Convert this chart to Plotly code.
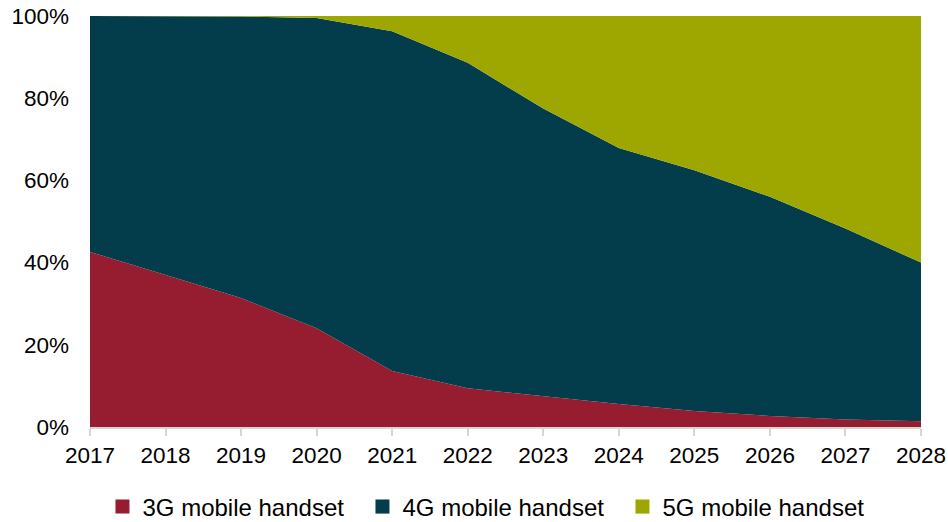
import plotly.graph_objects as go

# Share of mobile handsets by technology generation (% of total)
years = [2017, 2018, 2019, 2020, 2021, 2022, 2023, 2024, 2025, 2026, 2027, 2028]
share_3g = [42.6, 37.0, 31.4, 24.0, 13.6, 9.4, 7.5, 5.6, 3.9, 2.7, 1.8, 1.4]
share_4g = [57.4, 63.0, 68.5, 75.5, 82.7, 79.2, 70.0, 62.3, 58.6, 53.3, 46.5, 38.6]
share_5g = [0.0, 0.0, 0.1, 0.5, 3.7, 11.4, 22.5, 32.1, 37.5, 44.0, 51.7, 60.0]

series_names = ["3G mobile handset", "4G mobile handset", "5G mobile handset"]
series_values = [share_3g, share_4g, share_5g]
series_colors = ["#961C30", "#033C4B", "#9EA700"]

y_ticks = [0, 20, 40, 60, 80, 100]

FONT = "Liberation Sans, Arial, sans-serif"

fig = go.Figure()

for name, vals, color in zip(series_names, series_values, series_colors):
    fig.add_trace(go.Scatter(
        x=years, y=vals, name=name,
        mode="lines", stackgroup="one",
        line=dict(width=0, color=color),
        fillcolor=color,
        showlegend=False,
    ))

# square swatches for the legend
for name, color in zip(series_names, series_colors):
    fig.add_trace(go.Scatter(
        x=[None], y=[None], name=name, mode="markers",
        marker=dict(symbol="square", size=14, color=color),
        showlegend=True,
    ))

fig.update_layout(
    width=948, height=522,
    margin=dict(l=90, r=27, t=16, b=95, autoexpand=False),
    paper_bgcolor="white", plot_bgcolor="white",
    font=dict(family=FONT, size=22.5, color="#000000"),
    showlegend=True,
    legend=dict(
        orientation="h", traceorder="normal",
        x=0.015, xanchor="left",
        yref="container", y=1 - 507 / 522, yanchor="middle",
        entrywidth=215, entrywidthmode="pixels",
        font=dict(family=FONT, size=24, color="#000000"),
        bgcolor="rgba(0,0,0,0)",
        itemclick=False,
    ),
    xaxis=dict(
        range=[2017, 2028], automargin=False,
        tickmode="array", tickvals=years, ticktext=[str(y) for y in years],
        showgrid=False, zeroline=False,
        showline=True, linecolor="#D9D6D2", linewidth=2,
        ticks="outside", ticklen=7, tickwidth=2, tickcolor="#D9D6D2",
        tickfont=dict(size=22.5),
    ),
    yaxis=dict(
        range=[0, 100], automargin=False,
        tickmode="array", tickvals=y_ticks,
        ticktext=[f"{v}%" for v in y_ticks],
        showgrid=False, zeroline=False, showline=False,
        ticks="", ticklabelstandoff=20,
        tickfont=dict(size=22.5),
    ),
)

fig.write_html("out.html")
